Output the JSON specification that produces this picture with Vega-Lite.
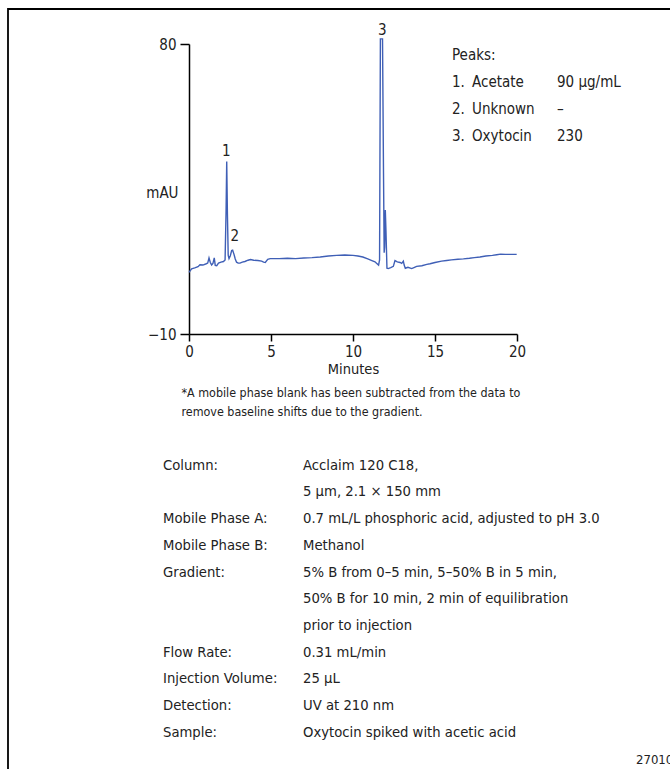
{
  "$schema": "https://vega.github.io/schema/vega-lite/v6.json",
  "autosize": {"type": "none"},
  "padding": {"left": 8, "top": 9, "right": 0, "bottom": 0},
  "width": 680,
  "height": 780,
  "background": "white",
  "view": {"stroke": "#000", "strokeWidth": 1.8, "fill": "white"},
  "config": {
    "font": "Liberation Sans Narrow, DejaVu Sans Condensed, Roboto, sans-serif",
    "text": {"font": "Liberation Sans Narrow, DejaVu Sans Condensed, Roboto, sans-serif", "color": "#222"}
  },
  "datasets": {
    "trace": [
      {"time": 0.00, "mAU": 9.1}, {"time": 0.16, "mAU": 10.2}, {"time": 0.35, "mAU": 10.5}, {"time": 0.55, "mAU": 10.9},
      {"time": 0.67, "mAU": 11.5}, {"time": 0.85, "mAU": 11.4}, {"time": 1.05, "mAU": 11.8}, {"time": 1.14, "mAU": 12.0},
      {"time": 1.22, "mAU": 13.6}, {"time": 1.30, "mAU": 12.2}, {"time": 1.38, "mAU": 11.4}, {"time": 1.46, "mAU": 11.9},
      {"time": 1.54, "mAU": 13.6}, {"time": 1.60, "mAU": 11.3}, {"time": 1.69, "mAU": 11.2}, {"time": 1.80, "mAU": 12.0},
      {"time": 1.95, "mAU": 12.3}, {"time": 2.10, "mAU": 12.5}, {"time": 2.20, "mAU": 13.0}, {"time": 2.26, "mAU": 28.0},
      {"time": 2.30, "mAU": 43.5}, {"time": 2.34, "mAU": 28.0}, {"time": 2.39, "mAU": 14.5}, {"time": 2.44, "mAU": 13.4},
      {"time": 2.52, "mAU": 14.3}, {"time": 2.60, "mAU": 15.9}, {"time": 2.66, "mAU": 16.0}, {"time": 2.74, "mAU": 14.8},
      {"time": 2.82, "mAU": 13.3}, {"time": 2.90, "mAU": 12.3}, {"time": 3.00, "mAU": 12.0}, {"time": 3.11, "mAU": 12.0},
      {"time": 3.25, "mAU": 12.3}, {"time": 3.41, "mAU": 12.5}, {"time": 3.60, "mAU": 12.9}, {"time": 3.75, "mAU": 13.1},
      {"time": 3.95, "mAU": 12.9}, {"time": 4.20, "mAU": 12.8}, {"time": 4.43, "mAU": 12.6}, {"time": 4.55, "mAU": 12.3},
      {"time": 4.65, "mAU": 12.2}, {"time": 4.80, "mAU": 13.2}, {"time": 4.95, "mAU": 13.4}, {"time": 5.50, "mAU": 13.4},
      {"time": 6.00, "mAU": 13.5}, {"time": 6.50, "mAU": 13.4}, {"time": 7.00, "mAU": 13.6}, {"time": 7.50, "mAU": 13.7},
      {"time": 8.00, "mAU": 13.9}, {"time": 8.50, "mAU": 14.2}, {"time": 9.00, "mAU": 14.4}, {"time": 9.50, "mAU": 14.5},
      {"time": 10.00, "mAU": 14.4}, {"time": 10.30, "mAU": 14.2}, {"time": 10.60, "mAU": 13.9}, {"time": 10.90, "mAU": 13.3},
      {"time": 11.15, "mAU": 12.8}, {"time": 11.34, "mAU": 12.4}, {"time": 11.45, "mAU": 11.9}, {"time": 11.56, "mAU": 11.4},
      {"time": 11.62, "mAU": 13.0}, {"time": 11.67, "mAU": 81.6}, {"time": 11.80, "mAU": 81.6}, {"time": 11.86, "mAU": 40.0},
      {"time": 11.90, "mAU": 15.2}, {"time": 11.93, "mAU": 17.0}, {"time": 11.97, "mAU": 28.5}, {"time": 12.01, "mAU": 22.0},
      {"time": 12.07, "mAU": 10.4}, {"time": 12.15, "mAU": 10.3}, {"time": 12.30, "mAU": 10.6}, {"time": 12.46, "mAU": 11.0},
      {"time": 12.56, "mAU": 12.8}, {"time": 12.70, "mAU": 12.4}, {"time": 12.87, "mAU": 12.2}, {"time": 12.97, "mAU": 11.9},
      {"time": 13.07, "mAU": 12.6}, {"time": 13.12, "mAU": 11.4}, {"time": 13.19, "mAU": 10.4}, {"time": 13.35, "mAU": 10.7},
      {"time": 13.58, "mAU": 10.3}, {"time": 13.75, "mAU": 10.7}, {"time": 13.88, "mAU": 11.0}, {"time": 14.20, "mAU": 11.2},
      {"time": 14.50, "mAU": 11.6}, {"time": 14.70, "mAU": 11.8}, {"time": 15.00, "mAU": 12.2}, {"time": 15.40, "mAU": 12.6},
      {"time": 15.71, "mAU": 12.8}, {"time": 16.00, "mAU": 13.0}, {"time": 16.40, "mAU": 13.2}, {"time": 16.73, "mAU": 13.3},
      {"time": 17.10, "mAU": 13.5}, {"time": 17.40, "mAU": 13.7}, {"time": 17.74, "mAU": 13.9}, {"time": 18.10, "mAU": 14.2},
      {"time": 18.50, "mAU": 14.4}, {"time": 18.76, "mAU": 14.6}, {"time": 19.00, "mAU": 14.8}, {"time": 19.30, "mAU": 14.7},
      {"time": 19.60, "mAU": 14.7}, {"time": 19.98, "mAU": 14.7}
    ],
    "peakLabels": [
      {"time": 2.27, "mAU": 46.9, "label": "1"},
      {"time": 2.8, "mAU": 20.5, "label": "2"},
      {"time": 11.78, "mAU": 84.5, "label": "3"}
    ],
    "peaks": [
      {"row": 0, "col": 0, "text": "Peaks:"},
      {"row": 1, "col": 0, "text": "1."}, {"row": 1, "col": 1, "text": "Acetate"}, {"row": 1, "col": 2, "text": "90 µg/mL"},
      {"row": 2, "col": 0, "text": "2."}, {"row": 2, "col": 1, "text": "Unknown"}, {"row": 2, "col": 2, "text": "–"},
      {"row": 3, "col": 0, "text": "3."}, {"row": 3, "col": 1, "text": "Oxytocin"}, {"row": 3, "col": 2, "text": "230"}
    ],
    "conditions": [
      {"row": 0, "col": 0, "text": "Column:"}, {"row": 0, "col": 1, "text": "Acclaim 120 C18,"},
      {"row": 1, "col": 1, "text": "5 µm, 2.1 × 150 mm"},
      {"row": 2, "col": 0, "text": "Mobile Phase A:"}, {"row": 2, "col": 1, "text": "0.7 mL/L phosphoric acid, adjusted to pH 3.0"},
      {"row": 3, "col": 0, "text": "Mobile Phase B:"}, {"row": 3, "col": 1, "text": "Methanol"},
      {"row": 4, "col": 0, "text": "Gradient:"}, {"row": 4, "col": 1, "text": "5% B from 0–5 min, 5–50% B in 5 min,"},
      {"row": 5, "col": 1, "text": "50% B for 10 min,  2 min of equilibration"},
      {"row": 6, "col": 1, "text": "prior to injection"},
      {"row": 7, "col": 0, "text": "Flow Rate:"}, {"row": 7, "col": 1, "text": "0.31 mL/min"},
      {"row": 8, "col": 0, "text": "Injection Volume:"}, {"row": 8, "col": 1, "text": "25 µL"},
      {"row": 9, "col": 0, "text": "Detection:"}, {"row": 9, "col": 1, "text": "UV at 210 nm"},
      {"row": 10, "col": 0, "text": "Sample:"}, {"row": 10, "col": 1, "text": "Oxytocin spiked with acetic acid"}
    ],
    "notes": [
      {"line": 1, "text": "*A mobile phase blank has been subtracted from the data to"},
      {"line": 2, "text": "remove baseline shifts due to the gradient."}
    ],
    "figure": [{"id": "27010"}]
  },
  "resolve": {"scale": {"x": "independent", "y": "independent"}, "axis": {"x": "independent", "y": "independent"}},
  "layer": [
    {
      "layer": [
        {
          "data": {"name": "trace"},
          "mark": {"type": "line", "color": "#3f5fb6", "strokeWidth": 1.4, "clip": false},
          "encoding": {
            "x": {
              "field": "time", "type": "quantitative",
              "scale": {"domain": [0, 20], "range": [181, 509], "nice": false, "zero": false},
              "axis": {
                "values": [0, 5, 10, 15, 20], "offset": -455, "grid": false,
                "domainColor": "#000", "domainWidth": 1.5, "tickColor": "#000", "tickWidth": 1.5, "tickSize": 7,
                "labelFontSize": 15, "labelColor": "#222", "labelPadding": 3, "labelFlush": false, "labelOverlap": false,
                "title": "Minutes", "titleFontSize": 14.5, "titleFontWeight": "normal", "titleColor": "#222", "titlePadding": 3
              }
            },
            "y": {
              "field": "mAU", "type": "quantitative",
              "scale": {"domain": [-10, 80], "range": [325, 35], "nice": false, "zero": false},
              "axis": {
                "values": [-10, 80], "offset": -181, "grid": false,
                "domainColor": "#000", "domainWidth": 1.5, "tickColor": "#000", "tickWidth": 1.5, "tickSize": 9,
                "labelFontSize": 15, "labelColor": "#222", "labelPadding": 4, "labelOverlap": false, "labelFlush": false,
                "title": "mAU", "titleFontSize": 15, "titleFontWeight": "normal", "titleColor": "#222",
                "titleAngle": 0, "titleAlign": "right", "titleBaseline": "middle", "titleX": -11, "titleY": 183
              }
            }
          }
        },
        {
          "data": {"name": "peakLabels"},
          "mark": {"type": "text", "fontSize": 15, "align": "center", "baseline": "middle", "clip": false},
          "encoding": {
            "x": {"field": "time", "type": "quantitative"},
            "y": {"field": "mAU", "type": "quantitative"},
            "text": {"field": "label"}
          }
        }
      ]
    },
    {
      "data": {"name": "peaks"},
      "mark": {"type": "text", "fontSize": 15, "align": "left", "baseline": "middle"},
      "encoding": {
        "x": {"field": "col", "type": "quantitative", "scale": {"domain": [0, 1, 2], "range": [444, 464, 549], "zero": false, "nice": false}, "axis": null},
        "y": {"field": "row", "type": "quantitative", "scale": {"domain": [0, 3], "range": [46, 127], "zero": false, "nice": false}, "axis": null},
        "text": {"field": "text"}
      }
    },
    {
      "data": {"name": "conditions"},
      "mark": {"type": "text", "fontSize": 14.7, "align": "left", "baseline": "middle"},
      "encoding": {
        "x": {"field": "col", "type": "quantitative", "scale": {"domain": [0, 1], "range": [155, 295], "zero": false, "nice": false}, "axis": null},
        "y": {"field": "row", "type": "quantitative", "scale": {"domain": [0, 10], "range": [456.7, 723.7], "zero": false, "nice": false}, "axis": null},
        "text": {"field": "text"}
      }
    },
    {
      "data": {"name": "notes"},
      "mark": {"type": "text", "fontSize": 12.4, "align": "left", "baseline": "middle"},
      "encoding": {
        "x": {"datum": 0, "type": "quantitative", "scale": {"domain": [0, 1], "range": [173.5, 174.5], "zero": false, "nice": false}, "axis": null},
        "y": {"field": "line", "type": "quantitative", "scale": {"domain": [1, 2], "range": [383.7, 402.7], "zero": false, "nice": false}, "axis": null},
        "text": {"field": "text"}
      }
    },
    {
      "data": {"name": "figure"},
      "mark": {"type": "text", "fontSize": 13, "align": "left", "baseline": "middle"},
      "encoding": {
        "x": {"datum": 0, "type": "quantitative", "scale": {"domain": [0, 1], "range": [628, 629], "zero": false, "nice": false}, "axis": null},
        "y": {"datum": 0, "type": "quantitative", "scale": {"domain": [0, 1], "range": [751, 752], "zero": false, "nice": false}, "axis": null},
        "text": {"field": "id"}
      }
    }
  ]
}
